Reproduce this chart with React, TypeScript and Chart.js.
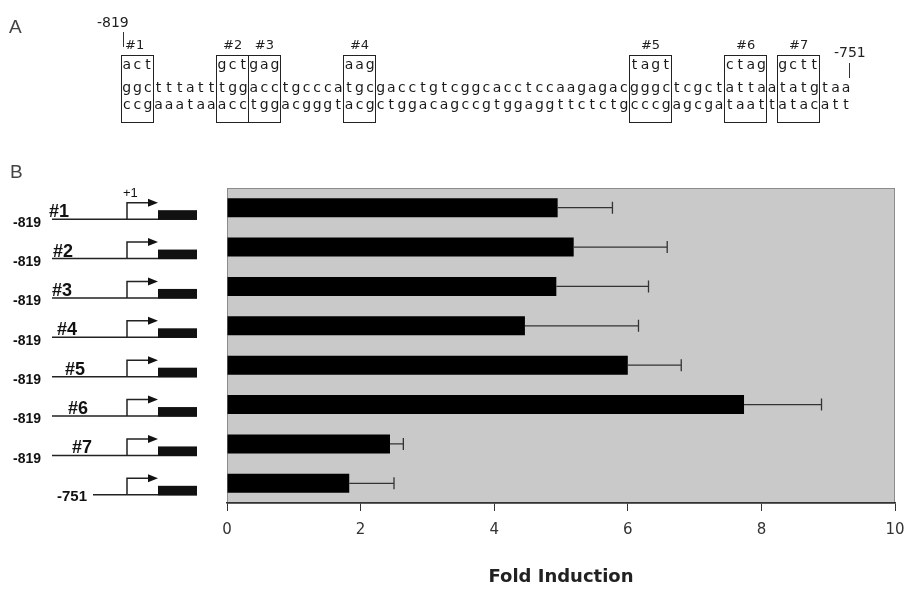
import React, { useEffect, useRef } from 'react';
import { Chart, registerables } from 'chart.js';
Chart.register(...registerables);

// ---- Data ----
const categories = ['#1', '#2', '#3', '#4', '#5', '#6', '#7', '-751'];
const foldInduction = [4.95, 5.19, 4.93, 4.46, 6.0, 7.74, 2.44, 1.83];
const errorPlus = [0.82, 1.4, 1.38, 1.7, 0.8, 1.16, 0.2, 0.67];
const constructStarts = ['-819', '-819', '-819', '-819', '-819', '-819', '-819', '-751'];
const xTickStep = 2;
const xMax = 10;

const topStrand = 'ggctttatttggacctgcccatgcgacctgtcggcacctccaagagacgggctcgctattaatatgtaa';
const bottomStrand = 'ccgaaataaacctggacgggtacgctggacagccgtggaggttctctgcccgagcgataattatacatt';
const boxLabels = ['#1', '#2', '#3', '#4', '#5', '#6', '#7'];
const boxStarts = [0, 9, 12, 21, 48, 57, 62];
const boxMutations = ['act', 'gct', 'gag', 'aag', 'tagt', 'ctag', 'gctt'];

const SANS = "'DejaVu Sans', 'Liberation Sans', sans-serif";
const ARIAL = "'Liberation Sans', Arial, sans-serif";
const NARROW = "'Liberation Sans Narrow', 'Liberation Sans', Arial, sans-serif";

const PITCH = 10.58;
const SEQ_LEFT = 121.5;

const bgPlugin = {
  id: 'bg',
  beforeDraw(chart: any) {
    const { ctx, chartArea: a } = chart;
    ctx.save();
    ctx.fillStyle = '#c9c9c9';
    ctx.fillRect(a.left, a.top, a.right - a.left, a.bottom - a.top);
    ctx.strokeStyle = '#8c8c8c';
    ctx.lineWidth = 1;
    ctx.strokeRect(a.left + 0.5, a.top + 0.5, a.right - a.left - 1, a.bottom - a.top);
    ctx.restore();
  },
};

const errPlugin = {
  id: 'err',
  afterDatasetsDraw(chart: any) {
    const { ctx } = chart;
    const xs = chart.scales.x;
    const meta = chart.getDatasetMeta(0);
    ctx.save();
    ctx.strokeStyle = '#333';
    ctx.lineWidth = 1.3;
    meta.data.forEach((bar: any, i: number) => {
      const x0 = bar.x;
      const x1 = xs.getPixelForValue(foldInduction[i] + errorPlus[i]);
      const y = bar.y;
      ctx.beginPath();
      ctx.moveTo(x0, y);
      ctx.lineTo(x1, y);
      ctx.moveTo(x1, y - 6);
      ctx.lineTo(x1, y + 6);
      ctx.stroke();
    });
    ctx.restore();
  },
};

const labelX = [49, 53, 52, 57, 65, 68, 72, 57];

const constructPlugin = {
  id: 'constructs',
  afterDraw(chart: any) {
    const { ctx } = chart;
    const ys = chart.scales.y;
    ctx.save();
    categories.forEach((cat, i) => {
      const cy = ys.getPixelForValue(i) + 2;
      const lineY = cy + 9.5;
      const isLast = constructStarts[i] !== '-819';
      const lineStart = isLast ? 93 : 52;
      ctx.strokeStyle = '#222';
      ctx.lineWidth = 1.5;
      ctx.beginPath();
      ctx.moveTo(lineStart, lineY);
      ctx.lineTo(197, lineY);
      ctx.moveTo(127, lineY);
      ctx.lineTo(127, cy - 7);
      ctx.lineTo(150, cy - 7);
      ctx.stroke();
      ctx.fillStyle = '#111';
      ctx.beginPath();
      ctx.moveTo(158, cy - 7);
      ctx.lineTo(148, cy - 11);
      ctx.lineTo(148, cy - 3);
      ctx.closePath();
      ctx.fill();
      ctx.fillRect(158, cy + 0.5, 39, 9.5);
      ctx.fillStyle = '#111';
      if (!isLast) {
        ctx.font = `bold 18px ${NARROW}`;
        ctx.textBaseline = 'alphabetic';
        ctx.textAlign = 'left';
        ctx.fillText(cat, labelX[i], lineY - 2);
        ctx.font = `bold 14px ${NARROW}`;
        ctx.textBaseline = 'middle';
        ctx.fillText(constructStarts[i], 13, cy + 13);
      } else {
        ctx.font = `bold 15px ${NARROW}`;
        ctx.textBaseline = 'middle';
        ctx.textAlign = 'left';
        ctx.fillText(constructStarts[i], labelX[i], lineY + 2);
      }
      if (i === 0) {
        ctx.font = `13px ${ARIAL}`;
        ctx.textBaseline = 'middle';
        ctx.fillText('+1', 123, cy - 16);
      }
    });
    ctx.restore();
  },
};

function SeqRow({ text, top }: { text: string; top: number }) {
  return (
    <div style={{ position: 'absolute', left: SEQ_LEFT, top, display: 'flex', height: 16 }}>
      {text.split('').map((ch, i) => (
        <span
          key={i}
          style={{
            display: 'inline-block',
            width: PITCH,
            textAlign: 'center',
            fontFamily: SANS,
            fontSize: 14,
            lineHeight: '16px',
            color: '#1a1a1a',
          }}
        >
          {ch === ' ' ? '\u00a0' : ch}
        </span>
      ))}
    </div>
  );
}

export default function App() {
  const ref = useRef<HTMLCanvasElement>(null);
  useEffect(() => {
    const chart = new Chart(ref.current as HTMLCanvasElement, {
      type: 'bar',
      data: {
        labels: categories,
        datasets: [
          {
            data: foldInduction,
            backgroundColor: '#000',
            borderWidth: 0,
            barPercentage: 0.97,
            categoryPercentage: 0.5,
          },
        ],
      },
      options: {
        indexAxis: 'y',
        responsive: false,
        animation: false,
        layout: { padding: { left: 0, right: 14, top: 188, bottom: 0 } },
        plugins: { legend: { display: false }, tooltip: { enabled: false } },
        scales: {
          x: {
            min: 0,
            max: xMax,
            ticks: { stepSize: xTickStep, color: '#333', font: { family: SANS, size: 15 }, padding: 10 },
            grid: { drawOnChartArea: false, drawTicks: true, tickLength: 8, color: '#333', lineWidth: 1 },
            border: { display: true, color: '#333', width: 1.5 },
            title: {
              display: true,
              text: 'Fold Induction',
              color: '#222',
              font: { family: SANS, size: 18, weight: 'bold' },
              padding: { top: 0, bottom: 1 },
            },
            afterFit: (s: any) => {
              s.height = 86;
              s.paddingRight = 0;
              s.paddingLeft = 0;
            },
          },
          y: {
            ticks: { display: false },
            grid: { display: false, drawTicks: false },
            border: { display: false },
            afterFit: (s: any) => {
              s.width = 227;
            },
          },
        },
      } as any,
      plugins: [bgPlugin, errPlugin, constructPlugin],
    });
    return () => chart.destroy();
  }, []);

  const mutRow = Array.from(topStrand).map(() => ' ');
  boxStarts.forEach((s, k) => {
    boxMutations[k].split('').forEach((c, j) => {
      mutRow[s + j] = c;
    });
  });

  return (
    <div style={{ position: 'absolute', left: 0, top: 0, width: 909, height: 589, background: '#fff' }}>
      <canvas ref={ref} width={909} height={589} style={{ display: 'block', position: 'absolute', left: 0, top: 0 }} />
      <div style={{ position: 'absolute', left: 9, top: 16, fontFamily: ARIAL, fontSize: 19, color: '#444', lineHeight: '22px' }}>A</div>
      <div style={{ position: 'absolute', left: 10, top: 161, fontFamily: ARIAL, fontSize: 19, color: '#444', lineHeight: '22px' }}>B</div>
      <div style={{ position: 'absolute', left: 97, top: 14, fontFamily: SANS, fontSize: 14, color: '#222', lineHeight: '16px' }}>-819</div>
      <div style={{ position: 'absolute', left: 123, top: 32, width: 1.2, height: 15, background: '#333' }} />
      <div style={{ position: 'absolute', left: 834, top: 44, fontFamily: SANS, fontSize: 14, color: '#222', lineHeight: '16px' }}>-751</div>
      <div style={{ position: 'absolute', left: 849, top: 63, width: 1.2, height: 15, background: '#333' }} />
      {boxStarts.map((s, k) => {
        const len = boxMutations[k].length;
        const left = SEQ_LEFT + s * PITCH - 0.5;
        const w = len * PITCH + 1;
        return (
          <React.Fragment key={k}>
            <div
              style={{
                position: 'absolute',
                left,
                top: 55,
                width: w,
                height: 68,
                border: '1.3px solid #222',
                boxSizing: 'border-box',
              }}
            />
            <div
              style={{
                position: 'absolute',
                left: left + (k === 0 ? 4 : 0),
                width: w,
                top: 37,
                textAlign: k === 0 ? 'left' : 'center',
                fontFamily: SANS,
                fontSize: 13,
                lineHeight: '16px',
                color: '#222',
              }}
            >
              {boxLabels[k]}
            </div>
          </React.Fragment>
        );
      })}
      <SeqRow text={mutRow.join('')} top={56} />
      <SeqRow text={topStrand} top={79} />
      <SeqRow text={bottomStrand} top={96} />
    </div>
  );
}
